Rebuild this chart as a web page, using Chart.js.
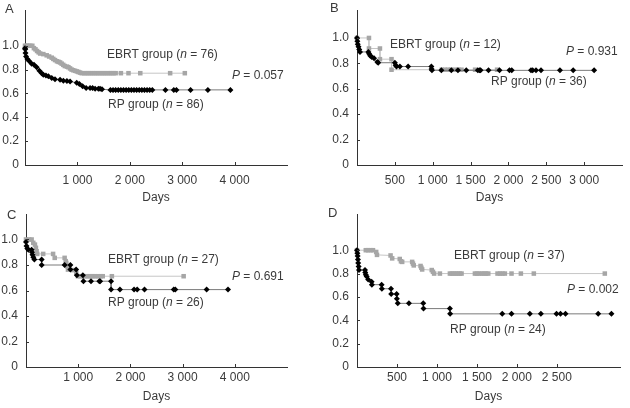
<!DOCTYPE html>
<html>
<head>
<meta charset="utf-8">
<script src="https://cdn.jsdelivr.net/npm/chart.js@4/dist/chart.umd.min.js"></script>
<style>
  body { margin: 0; background: #fff; }
  #wrap { position: relative; width: 630px; height: 408px; overflow: hidden; }
  .panel { position: absolute; width: 315px; height: 204px; }
</style>
</head>
<body>
<div id="wrap">
  <div class="panel" style="left:0;top:0"><canvas id="chartA"></canvas></div>
  <div class="panel" style="left:315px;top:0"><canvas id="chartB"></canvas></div>
  <div class="panel" style="left:0;top:204px"><canvas id="chartC"></canvas></div>
  <div class="panel" style="left:315px;top:204px"><canvas id="chartD"></canvas></div>
</div>
<script>
/* Data (days, survival) */

const yTicks = [0, 0.2, 0.4, 0.6, 0.8, 1.0];
const xTicksA = [1000, 2000, 3000, 4000];
const xTicksB = [500, 1000, 1500, 2000, 2500, 3000];
const xTicksC = [1000, 2000, 3000, 4000];
const xTicksD = [500, 1000, 1500, 2000, 2500];

// A
const ebrtDaysA = [0, 30, 60, 100, 140, 170, 200, 230, 260, 290, 350, 414, 460, 510, 540, 573, 610, 640, 670, 700,
  730, 760, 800, 828, 860, 890, 920, 955, 990, 1020, 1050, 1083,
  1130, 1170, 1210, 1250, 1290, 1330, 1370, 1410, 1450, 1490, 1530, 1570, 1610, 1650, 1690, 1730,
  1830, 1975, 2200, 2770, 3050];
const ebrtSurvA = [1.0, 1.0, 1.0, 1.0, 1.0, 0.98, 0.97, 0.956, 0.945, 0.935, 0.93, 0.92, 0.91, 0.90, 0.89, 0.88, 0.87, 0.865, 0.86, 0.85,
  0.84, 0.83, 0.825, 0.82, 0.81, 0.80, 0.795, 0.79, 0.785, 0.78, 0.775, 0.77,
  0.77, 0.77, 0.77, 0.77, 0.77, 0.77, 0.77, 0.77, 0.77, 0.77, 0.77, 0.77, 0.77, 0.77, 0.77, 0.77,
  0.77, 0.77, 0.77, 0.77, 0.77];
const rpDaysA = [0, 5, 10, 20, 45, 83, 127, 172, 223, 274, 318, 350, 400, 446, 510, 573, 669, 732, 800, 860,
  987, 1038, 1100, 1166, 1242, 1290, 1338, 1400, 1433, 1470,
  1630, 1680, 1730, 1780, 1830, 1880, 1930, 1980, 2030, 2080, 2130, 2180, 2230, 2280, 2330, 2380, 2430,
  2680, 2840, 2890, 3160, 3490, 3920];
const rpSurvA = [0.98, 0.97, 0.94, 0.91, 0.89, 0.87, 0.85, 0.84, 0.82, 0.79, 0.77, 0.756, 0.75, 0.745, 0.73, 0.72, 0.715, 0.706, 0.705, 0.70,
  0.69, 0.68, 0.66, 0.645, 0.645, 0.645, 0.64, 0.64, 0.64, 0.635,
  0.63, 0.63, 0.63, 0.63, 0.63, 0.63, 0.63, 0.63, 0.63, 0.63, 0.63, 0.63, 0.63, 0.63, 0.63, 0.63, 0.63,
  0.63, 0.63, 0.63, 0.63, 0.63, 0.63];

// B
const ebrtDaysB = [0, 158, 158, 303, 303, 456, 456, 1120, 1160, 1200, 1240, 1290, 1340, 1380, 1560, 1850];
const ebrtSurvB = [1.0, 1.0, 0.917, 0.917, 0.833, 0.833, 0.75, 0.75, 0.75, 0.75, 0.75, 0.75, 0.75, 0.75, 0.75, 0.75];
const rpDaysB = [0, 5, 10, 20, 30, 40, 150, 160, 175, 195, 225, 268, 280, 500, 510, 522, 566, 675, 982, 985, 990,
  1114, 1246, 1333, 1443, 1596, 1618, 1632, 1737, 1882, 2013, 2044, 2298, 2320, 2364, 2430, 2680, 2855, 3132];
const rpSurvB = [1.0, 0.975, 0.95, 0.93, 0.91, 0.89, 0.89, 0.875, 0.86, 0.85, 0.84, 0.81, 0.805, 0.805, 0.785, 0.775, 0.775, 0.775, 0.775, 0.755, 0.745,
  0.745, 0.745, 0.745, 0.745, 0.745, 0.745, 0.745, 0.745, 0.745, 0.745, 0.745, 0.745, 0.745, 0.745, 0.745, 0.745, 0.745, 0.745];

// C
const ebrtDaysC = [0, 60, 108, 139, 171, 190, 203, 215, 329, 519, 550, 740, 760, 772, 790, 804, 900, 962, 994,
  1040, 1080, 1120, 1160, 1200, 1240, 1290, 1330, 1380, 1430, 1470, 1645, 3020];
const ebrtSurvC = [1.0, 1.0, 1.0, 0.974, 0.96, 0.935, 0.908, 0.887, 0.887, 0.887, 0.856, 0.856, 0.83, 0.817, 0.79, 0.764, 0.76, 0.738, 0.712,
  0.712, 0.712, 0.712, 0.712, 0.712, 0.712, 0.712, 0.712, 0.712, 0.712, 0.712, 0.712, 0.712];
const rpDaysC = [0, 10, 25, 45, 108, 115, 125, 140, 160, 300, 300, 740, 850, 850, 960, 975, 1090, 1100, 1245, 1405,
  1420, 1630, 1630, 1800, 2070, 2130, 2270, 2830, 2860, 3460, 3870];
const rpSurvC = [0.98, 0.95, 0.93, 0.92, 0.92, 0.90, 0.88, 0.86, 0.843, 0.843, 0.80, 0.80, 0.80, 0.764, 0.764, 0.72, 0.72, 0.673, 0.673, 0.673,
  0.673, 0.673, 0.607, 0.607, 0.607, 0.607, 0.607, 0.607, 0.607, 0.607, 0.607];

// D
const ebrtDaysD = [0, 110, 140, 170, 200, 240, 250, 420, 440, 535, 550, 565, 690, 700, 710, 795, 805, 815, 935, 950, 965,
  1037, 1162, 1185, 1210, 1235, 1260, 1285, 1308, 1475, 1500, 1530, 1560, 1590, 1615, 1642,
  1758, 1790, 1820, 1850, 1933, 2050, 2212, 3100];
const ebrtSurvD = [1.0, 1.0, 1.0, 1.0, 1.0, 0.985, 0.96, 0.955, 0.93, 0.925, 0.905, 0.90, 0.90, 0.885, 0.87, 0.865, 0.85, 0.835, 0.83, 0.815, 0.80,
  0.80, 0.80, 0.80, 0.80, 0.80, 0.80, 0.80, 0.80, 0.80, 0.80, 0.80, 0.80, 0.80, 0.80, 0.80,
  0.80, 0.80, 0.80, 0.80, 0.80, 0.80, 0.80, 0.80];
const rpDaysD = [0, 5, 8, 12, 15, 20, 25, 100, 103, 110, 121, 140, 183, 186, 308, 311, 425, 428, 496, 499,
  510, 650, 829, 832, 1162, 1165, 1817, 1933, 2162, 2300, 2496, 2546, 2608, 3017, 3183];
const rpSurvD = [1.0, 0.975, 0.95, 0.92, 0.89, 0.86, 0.83, 0.83, 0.81, 0.79, 0.775, 0.75, 0.73, 0.705, 0.705, 0.67, 0.67, 0.625, 0.625, 0.585,
  0.545, 0.545, 0.545, 0.50, 0.50, 0.455, 0.455, 0.455, 0.455, 0.455, 0.455, 0.455, 0.455, 0.455, 0.455];

const FONT = '"Liberation Sans", Arial, sans-serif';
const TEXT = '#3a3a3a';

function toPoints(days, surv) {
  return days.map((d, i) => ({ x: d, y: surv[i] }));
}

function fmtDays(v) {
  return String(v).replace(/\B(?=(\d{3})+(?!\d))/g, ' ');
}

/* Excel style tick marks, drawn inside the plot area */
const insideTicks = {
  id: 'insideTicks',
  afterDraw(chart) {
    const { ctx, chartArea: a, scales: { x, y } } = chart;
    ctx.save();
    ctx.strokeStyle = '#333';
    ctx.lineWidth = 1;
    ctx.beginPath();
    x.ticks.forEach(t => {
      const px = Math.round(x.getPixelForValue(t.value)) + 0.5;
      ctx.moveTo(px, a.bottom);
      ctx.lineTo(px, a.bottom - 3);
    });
    y.ticks.forEach(t => {
      const py = Math.round(y.getPixelForValue(t.value)) + 0.5;
      ctx.moveTo(a.left, py);
      ctx.lineTo(a.left + 3, py);
    });
    ctx.stroke();
    ctx.restore();
  }
};

/* panel letter, group labels and P value */
function panelText(p) {
  return {
    id: 'panelText',
    afterDraw(chart) {
      const ctx = chart.ctx;
      ctx.save();
      ctx.fillStyle = TEXT;
      ctx.textBaseline = 'middle';
      ctx.textAlign = 'left';
      ctx.font = '13px ' + FONT;
      ctx.fillText(p.letter, p.letterX, p.letterY);
      p.notes.forEach(n => {
        let x = n.x;
        n.parts.forEach(([s, italic]) => {
          ctx.font = (italic ? 'italic ' : '') + '12px ' + FONT;
          ctx.fillText(s, x, n.y);
          x += ctx.measureText(s).width;
        });
      });
      ctx.restore();
    }
  };
}

function buildPanel(canvasId, p) {
  new Chart(document.getElementById(canvasId), {
    type: 'scatter',
    data: {
      datasets: [
        {
          label: 'RP group',
          data: toPoints(p.rpDays, p.rpSurv),
          showLine: true,
          borderColor: '#7a7a7a',
          borderWidth: 1,
          pointStyle: 'rectRot',
          pointRadius: 3,
          pointBackgroundColor: '#000',
          pointBorderWidth: 0,
          clip: false
        },
        {
          label: 'EBRT group',
          data: toPoints(p.ebrtDays, p.ebrtSurv),
          showLine: true,
          borderColor: '#c6c6c6',
          borderWidth: 1,
          pointStyle: 'rect',
          pointRadius: 3.2,
          pointBackgroundColor: '#a6a6a6',
          pointBorderWidth: 0,
          clip: false
        }
      ]
    },
    options: {
      responsive: true,
      maintainAspectRatio: false,
      animation: false,
      layout: { padding: { top: p.padTop, right: p.padRight, bottom: p.padBottom, left: 0 } },
      plugins: {
        legend: { display: false },
        tooltip: { enabled: false }
      },
      scales: {
        x: {
          type: 'linear',
          min: 0,
          max: p.xMax,
          grid: { display: false, drawTicks: false },
          border: { color: '#333', width: 1 },
          afterBuildTicks: s => { s.ticks = p.xTicks.map(v => ({ value: v })); },
          afterFit: s => { s.height = p.xAxisH; s.paddingLeft = 0; s.paddingRight = 0; },
          ticks: {
            autoSkip: false,
            maxRotation: 0,
            padding: p.xPad,
            color: TEXT,
            font: { family: FONT, size: 12 },
            callback: v => fmtDays(v)
          },
          title: {
            display: true,
            text: 'Days',
            color: TEXT,
            font: { family: FONT, size: 12, lineHeight: 1 },
            padding: 0
          }
        },
        y: {
          min: 0,
          max: p.yMax,
          grid: { display: false, drawTicks: false },
          border: { color: '#333', width: 1 },
          afterBuildTicks: s => { s.ticks = yTicks.map(v => ({ value: v })); },
          afterFit: s => { s.width = p.yAxisW; s.paddingTop = 0; s.paddingBottom = 0; },
          ticks: {
            padding: p.yPad,
            color: TEXT,
            font: { family: FONT, size: 12 },
            callback: v => (v === 0 ? '0' : v.toFixed(1))
          }
        }
      }
    },
    plugins: [insideTicks, panelText(p)]
  });
}

buildPanel('chartA', {
  ebrtDays: ebrtDaysA, ebrtSurv: ebrtSurvA, rpDays: rpDaysA, rpSurv: rpSurvA, xTicks: xTicksA,
  xMax: 5000, yMax: 1.3, padTop: 10, padRight: 28, padBottom: 0, xAxisH: 39, yAxisW: 25, xPad: 8, yPad: 6,
  letter: 'A', letterX: 5, letterY: 9,
  notes: [
    { x: 107, y: 55, parts: [['EBRT group (', false], ['n', true], [' = 76)', false]] },
    { x: 108, y: 105, parts: [['RP group (', false], ['n', true], [' = 86)', false]] },
    { x: 232, y: 76, parts: [['P', true], [' = 0.057', false]] }
  ]
});

buildPanel('chartB', {
  ebrtDays: ebrtDaysB, ebrtSurv: ebrtSurvB, rpDays: rpDaysB, rpSurv: rpSurvB, xTicks: xTicksB,
  xMax: 3500, yMax: 1.22, padTop: 10, padRight: 8, padBottom: 0, xAxisH: 39, yAxisW: 42, xPad: 8, yPad: 8,
  letter: 'B', letterX: 15, letterY: 8,
  notes: [
    { x: 75, y: 45, parts: [['EBRT group (', false], ['n', true], [' = 12)', false]] },
    { x: 176, y: 82, parts: [['RP group (', false], ['n', true], [' = 36)', false]] },
    { x: 251, y: 52, parts: [['P', true], [' = 0.931', false]] }
  ]
});

buildPanel('chartC', {
  ebrtDays: ebrtDaysC, ebrtSurv: ebrtSurvC, rpDays: rpDaysC, rpSurv: rpSurvC, xTicks: xTicksC,
  xMax: 5000, yMax: 1.2, padTop: 10, padRight: 28, padBottom: 5, xAxisH: 36, yAxisW: 26, xPad: 3, yPad: 8,
  letter: 'C', letterX: 7, letterY: 11,
  notes: [
    { x: 108, y: 56, parts: [['EBRT group (', false], ['n', true], [' = 27)', false]] },
    { x: 108, y: 99, parts: [['RP group (', false], ['n', true], [' = 26)', false]] },
    { x: 232, y: 73, parts: [['P', true], [' = 0.691', false]] }
  ]
});

buildPanel('chartD', {
  ebrtDays: ebrtDaysD, ebrtSurv: ebrtSurvD, rpDays: rpDaysD, rpSurv: rpSurvD, xTicks: xTicksD,
  xMax: 3290, yMax: 1.31, padTop: 10, padRight: 10, padBottom: 5, xAxisH: 36, yAxisW: 42, xPad: 3, yPad: 8,
  letter: 'D', letterX: 13, letterY: 9,
  notes: [
    { x: 139, y: 52, parts: [['EBRT group (', false], ['n', true], [' = 37)', false]] },
    { x: 135, y: 126, parts: [['RP group (', false], ['n', true], [' = 24)', false]] },
    { x: 252, y: 86, parts: [['P', true], [' = 0.002', false]] }
  ]
});
</script>
</body>
</html>
